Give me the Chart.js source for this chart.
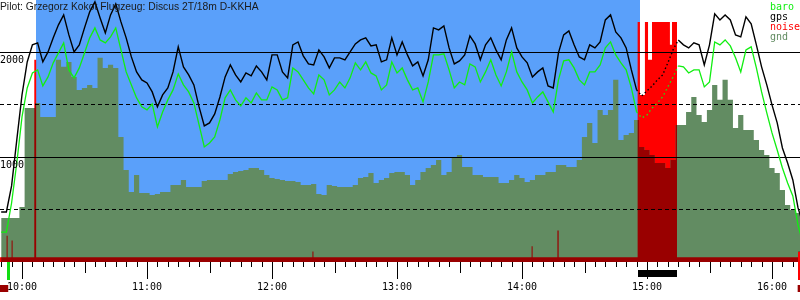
<!DOCTYPE html>
<html><head><meta charset="utf-8">
<script src="https://cdn.jsdelivr.net/npm/chart.js@4.4.1/dist/chart.umd.min.js"></script>
<style>html,body{margin:0;padding:0;background:#fff}canvas{display:block}</style>
</head><body>
<canvas id="c" width="800" height="300"></canvas>
<script>
const titleText = "Pilot: Grzegorz Kokot Flugzeug: Discus 2T/18m D-KKHA";
const seriesNames = ["baro", "gps", "noise", "gnd"];
const seriesColors = { baro: "#11ee11", gps: "#000000", noise: "#ff0000", gnd: "#628c62" };

// sample times, minutes after 10:00
const times = [-10,-7.5,-5,-2.5,0,2.5,5,7.5,10,12.5,15,17.5,20,22.5,25,27.5,30,32.5,35,37.5,40,42.5,45,47.5,50,52.5,55,57.5,60,62.5,65,67.5,70,72.5,75,77.5,80,82.5,85,87.5,90,92.5,95,97.5,100,102.5,105,107.5,110,112.5,115,117.5,120,122.5,125,127.5,130,132.5,135,137.5,140,142.5,145,147.5,150,152.5,155,157.5,160,162.5,165,167.5,170,172.5,175,177.5,180,182.5,185,187.5,190,192.5,195,197.5,200,202.5,205,207.5,210,212.5,215,217.5,220,222.5,225,227.5,230,232.5,235,237.5,240,242.5,245,247.5,250,252.5,255,257.5,260,262.5,265,267.5,270,272.5,275,277.5,280,282.5,285,287.5,290,292.5,295,297.5,300,302.5,305,307.5,310,312.5,315,317.5,320,322.5,325,327.5,330,332.5,335,337.5,340,342.5,345,347.5,350,352.5,355,357.5,360,362.5,365,367.5,370,372.5,375];

const gps = [477,477,726,1165,1594,1909,2072,2091,1909,2005,2139,2263,2358,2167,2005,2072,2234,2387,2482,2329,2186,2358,2463,2291,2139,1957,1814,1738,1709,1623,1480,1594,1661,1814,2053,1862,1785,1690,1480,1298,1327,1413,1575,1766,1881,1785,1718,1804,1776,1871,1814,1738,1976,1976,1814,1757,2072,2100,1967,1890,1881,2024,1957,1852,1948,1948,1929,2005,2081,2119,2139,2062,2072,1909,1929,2139,1976,2100,1976,1871,1909,1776,1929,2234,2215,2253,2043,1890,1919,1976,2158,2081,1929,2072,2139,2024,1929,2119,2234,2043,1957,1900,1766,1814,1852,1680,1661,1995,2167,2205,2072,1957,1929,2072,2043,2100,2310,2358,2196,2139,2043,1833,1642,1585,1633,1680,1738,1785,1900,2024,2119,2072,2043,2091,2072,1881,2072,2368,2310,2358,2310,2167,2148,2339,2272,2072,1862,1690,1499,1327,1088,945,783,516,353];

const baro = [286,286,563,945,1384,1661,1804,1833,1680,1766,1900,1995,2091,1833,1757,1852,1995,2139,2234,2119,2091,2148,2234,2024,1814,1690,1566,1480,1451,1508,1289,1432,1547,1642,1795,1690,1623,1518,1308,1098,1136,1193,1356,1566,1642,1547,1489,1566,1518,1613,1547,1547,1671,1642,1547,1566,1852,1814,1738,1661,1604,1785,1738,1594,1642,1718,1661,1757,1900,1833,1909,1804,1776,1642,1690,1909,1804,1852,1738,1642,1661,1528,1718,1976,1976,1986,1833,1661,1718,1690,1890,1862,1718,1814,1929,1785,1680,1814,2005,1814,1718,1642,1518,1575,1623,1528,1432,1738,1919,1929,1852,1738,1690,1814,1814,1881,2043,2100,1976,1900,1833,1661,1432,1375,1403,1470,1518,1575,1671,1766,1871,1862,1804,1833,1833,1671,1718,2100,2072,2119,2062,1948,1814,2024,2053,1852,1623,1423,1232,1069,897,754,630,353,162];

const gnd = [420,420,420,420,525,1470,1470,1518,1384,1384,1384,1929,1862,1909,1766,1642,1661,1690,1661,1948,1852,1881,1852,1193,878,668,831,659,659,640,649,668,668,735,735,783,716,716,716,773,783,783,783,783,840,859,869,878,897,897,878,831,802,792,783,773,773,764,735,735,745,649,640,735,726,716,716,716,735,802,811,850,754,783,802,850,859,859,831,735,783,859,897,926,974,831,859,1002,1022,907,907,831,831,811,811,811,754,754,783,831,802,764,783,831,831,859,859,926,926,907,907,974,1193,1327,1136,1451,1403,1451,1738,1165,1212,1232,1356,1098,1069,1022,945,945,897,974,1308,1308,1432,1575,1403,1337,1451,1690,1547,1738,1547,1279,1403,1260,1260,1165,1069,1022,897,850,687,544,496,468,449];

// engine noise level (each value holds until the next time)
const noiseTimes = [-11,-7.4,-6.9,-5.0,-4.5,5.9,6.8,139.4,139.9,244.6,245.1,257.0,257.6,295.5,296.6,299.0,300.5,302.4,311.0,312.0,314.4,372.6,375];
const noise = [45,250,45,205,45,1929,45,100,45,150,45,300,45,2290,1594,2290,1929,2290,2072,2290,45,100,100];

const yGridValues = [500, 1000, 1500, 2000];
const yLabelValues = [1000, 2000];
const hourTimes = [0, 60, 120, 180, 240, 300, 360];
const hourLabels = ["10:00", "11:00", "12:00", "13:00", "14:00", "15:00", "16:00"];
const taskWindow = [6.7, 296.6];
const engineRun = [295.5, 314.4];
const takeoffTime = -6.6;
const landingTime = 372.8;
const viewRange = [-10.56, 373.44];
const altRange = [0, 2500];

const pts = (ts, vs) => ts.map((t, i) => ({ x: t, y: vs[i] }));
const inEngine = c => c.p0.parsed.x >= engineRun[0] - 0.6 && c.p1.parsed.x <= engineRun[1] + 0.7;

const decor = {
  id: 'decor',
  beforeDatasetsDraw(chart) {
    const { ctx, chartArea: a, scales: { x } } = chart;
    const x0 = x.getPixelForValue(taskWindow[0]), x1 = x.getPixelForValue(taskWindow[1]);
    ctx.save();
    ctx.fillStyle = '#5aa0fa';
    ctx.fillRect(Math.round(x0), a.top, Math.round(x1) - Math.round(x0), a.bottom - a.top);
    ctx.restore();
  },
  afterDatasetDraw(chart, args) {
    if (chart.data.datasets[args.index].label !== 'gnd') return;
    const { ctx, chartArea: a, scales: { y } } = chart;
    const base = y.getPixelForValue(0);
    const g = args.meta.data;
    const nIdx = chart.data.datasets.findIndex(d => d.label === 'noise');
    const n = chart.getDatasetMeta(nIdx).data;
    ctx.save();
    ctx.beginPath(); ctx.rect(a.left, a.top, a.right - a.left, a.bottom - a.top); ctx.clip();
    ctx.beginPath();
    ctx.moveTo(g[0].x, base); ctx.lineTo(g[0].x, g[0].y);
    for (let i = 1; i < g.length; i++) {
      const p = g[i - 1], q = g[i], m = (p.x + q.x) / 2;
      ctx.lineTo(m, p.y); ctx.lineTo(m, q.y); ctx.lineTo(q.x, q.y);
    }
    ctx.lineTo(g[g.length - 1].x, base); ctx.closePath(); ctx.clip();
    ctx.beginPath();
    ctx.moveTo(n[0].x, base); ctx.lineTo(n[0].x, n[0].y);
    for (let i = 1; i < n.length; i++) {
      const p = n[i - 1], q = n[i];
      ctx.lineTo(q.x, p.y); ctx.lineTo(q.x, q.y);
    }
    ctx.lineTo(n[n.length - 1].x, base); ctx.closePath();
    ctx.fillStyle = '#990000'; ctx.fill();
    ctx.restore();
    // horizontal reference lines
    ctx.save();
    ctx.strokeStyle = '#000'; ctx.lineWidth = 1;
    yGridValues.forEach(v => {
      const py = Math.floor(y.getPixelForValue(v)) + 0.5;
      ctx.setLineDash(v % 1000 === 0 ? [] : [4, 3]);
      ctx.beginPath(); ctx.moveTo(a.left, py); ctx.lineTo(a.right, py); ctx.stroke();
    });
    ctx.restore();
  },
  afterDraw(chart) {
    const { ctx, chartArea: a, scales: { x, y } } = chart;
    ctx.save();
    const mono = '10px "DejaVu Sans Mono", monospace';
    ctx.font = mono; ctx.fillStyle = '#000'; ctx.textAlign = 'left'; ctx.textBaseline = 'alphabetic';
    yLabelValues.forEach(v => ctx.fillText(String(v), 0, Math.floor(y.getPixelForValue(v)) + 11));
    // time ticks
    ctx.strokeStyle = '#000'; ctx.lineWidth = 1;
    for (let m = Math.ceil(viewRange[0] / 5) * 5; m <= viewRange[1]; m += 5) {
      const px = Math.round(x.getPixelForValue(m)) + 0.5;
      const len = m % 60 === 0 ? 17 : (m % 30 === 0 ? 11 : 5);
      ctx.beginPath(); ctx.moveTo(px, a.bottom); ctx.lineTo(px, a.bottom + len); ctx.stroke();
    }
    ctx.textAlign = 'center';
    hourTimes.forEach((t, i) => ctx.fillText(hourLabels[i], Math.round(x.getPixelForValue(t)), a.bottom + 28));
    // flight markers
    const xt = x.getPixelForValue(takeoffTime), xl = x.getPixelForValue(landingTime);
    ctx.fillStyle = '#990000';
    ctx.fillRect(a.left, a.bottom + 23, xt - a.left, 7);
    ctx.fillRect(xl - 1, a.bottom + 23, a.right - xl + 1, 7);
    ctx.fillStyle = '#11dd11';
    ctx.fillRect(Math.round(xt) - 1, a.bottom, 3, 18);
    ctx.fillStyle = '#ff0000';
    ctx.fillRect(Math.round(xl) - 1, a.bottom - 10, 2, 28);
    ctx.fillStyle = '#000';
    const e0 = x.getPixelForValue(engineRun[0]), e1 = x.getPixelForValue(engineRun[1]);
    ctx.fillRect(Math.round(e0), a.bottom + 8, Math.round(e1) - Math.round(e0), 7);
    // title
    ctx.textAlign = 'left';
    ctx.font = '10.3px "Liberation Sans", Arial, sans-serif';
    ctx.fillStyle = '#1a1a1a';
    ctx.fillText(titleText, 0, 10);
    // legend
    ctx.font = mono;
    seriesNames.forEach((s, i) => { ctx.fillStyle = seriesColors[s]; ctx.fillText(s, 770, 10 + i * 10); });
    ctx.restore();
  }
};

new Chart(document.getElementById('c'), {
  type: 'line',
  data: {
    datasets: [
      { label: 'gps', data: pts(times, gps), borderColor: seriesColors.gps, borderWidth: 1.4, pointRadius: 0, fill: false, order: 0,
        segment: { borderDash: c => inEngine(c) ? [1.5, 2.5] : undefined } },
      { label: 'baro', data: pts(times, baro), borderColor: seriesColors.baro, borderWidth: 1.3, pointRadius: 0, fill: false, order: 1,
        segment: { borderDash: c => inEngine(c) ? [1.5, 3] : undefined } },
      { label: 'gnd', data: pts(times, gnd), stepped: 'middle', borderWidth: 0, borderColor: 'rgba(0,0,0,0)', backgroundColor: seriesColors.gnd, pointRadius: 0, fill: 'origin', order: 3 },
      { label: 'noise', data: pts(noiseTimes, noise), stepped: 'before', borderWidth: 0, borderColor: 'rgba(0,0,0,0)', backgroundColor: seriesColors.noise, pointRadius: 0, fill: 'origin', order: 4 }
    ]
  },
  options: {
    responsive: false,
    animation: false,
    events: [],
    layout: { padding: { left: 0, right: 0, top: 0, bottom: 38 } },
    scales: {
      x: { type: 'linear', min: viewRange[0], max: viewRange[1], display: false },
      y: { type: 'linear', min: altRange[0], max: altRange[1], display: false }
    },
    plugins: { legend: { display: false }, tooltip: { enabled: false } }
  },
  plugins: [decor]
});
</script>
</body></html>
